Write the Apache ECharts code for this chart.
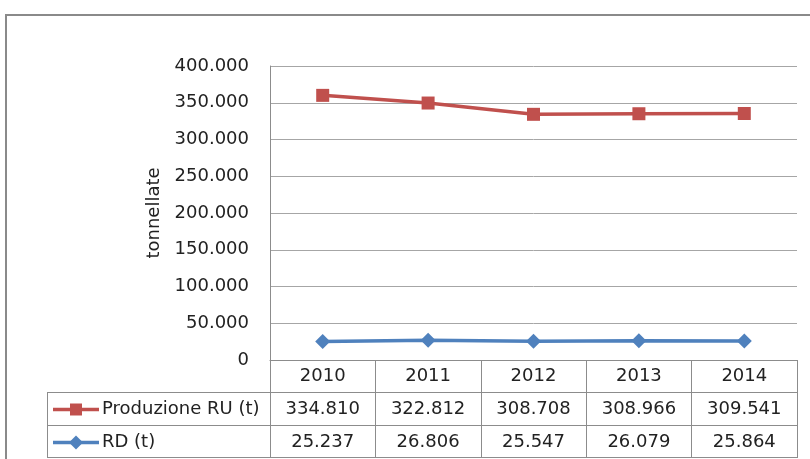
<!DOCTYPE html>
<html>
<head>
<meta charset="utf-8">
<script src="https://cdn.jsdelivr.net/npm/echarts@6/dist/echarts.min.js"></script>
<style>
  html, body { margin: 0; padding: 0; background: #fff; }
  #main { width: 810px; height: 459px; }
</style>
</head>
<body>
<div id="main"></div>
<script>
const years = ["2010", "2011", "2012", "2013", "2014"];
const produzioneRU = [334810, 322812, 308708, 308966, 309541];
const rd = [25237, 26806, 25547, 26079, 25864];
const yTicks = [0, 50000, 100000, 150000, 200000, 250000, 300000, 350000, 400000];

const FONT = "DejaVu Sans";
const FS = 18;
const RED = "#C0504D";
const BLUE = "#4F81BD";
const GRID_LINE = "#a6a6a6";
const TEXT = "#222";

// punto come separatore delle migliaia
function fmt(n) {
  return String(n).replace(/\B(?=(\d{3})+(?!\d))/g, ".");
}

const chartDom = document.getElementById("main");
const myChart = echarts.init(chartDom);

const option = {
  animation: false,
  textStyle: { fontFamily: FONT },
  grid: { left: 270, right: 13, top: 66, bottom: 99 },
  xAxis: {
    type: "category",
    data: years,
    boundaryGap: true,
    axisLine: { lineStyle: { color: "#8c8c8c", width: 1 } },
    axisTick: { show: true, length: 98, lineStyle: { color: "#8c8c8c" } },
    axisLabel: { color: TEXT, fontSize: FS, fontFamily: FONT, margin: 7 },
  },
  yAxis: {
    type: "value",
    min: yTicks[0],
    max: yTicks[yTicks.length - 1],
    interval: 50000,
    name: "tonnellate",
    nameLocation: "middle",
    nameRotate: 90,
    nameGap: 104,
    nameTextStyle: { color: TEXT, fontSize: FS, fontFamily: FONT },
    axisLine: { show: true, lineStyle: { color: "#8c8c8c" } },
    axisTick: { show: false },
    axisLabel: {
      color: TEXT,
      fontSize: FS,
      fontFamily: FONT,
      margin: 21,
      formatter: (v) => fmt(v),
    },
    splitLine: { lineStyle: { color: GRID_LINE, width: 1 } },
  },
  series: [
    {
      name: "RD (t)",
      type: "line",
      stack: "tot",
      data: rd,
      symbol: "diamond",
      symbolSize: 15,
      lineStyle: { color: BLUE, width: 3.5 },
      itemStyle: { color: BLUE },
    },
    {
      name: "Produzione RU (t)",
      type: "line",
      stack: "tot",
      data: produzioneRU,
      symbol: "rect",
      symbolSize: 13,
      lineStyle: { color: RED, width: 3.5 },
      itemStyle: { color: RED },
    },
  ],
};

myChart.setOption(option);

// tabella dati sotto il grafico
function buildTable() {
  const right = 797, bottom = 360;
  const tableLeft = 47;
  const rowH = 33;
  const rows = [
    { label: "Produzione RU (t)", values: produzioneRU, color: RED, marker: "rect" },
    { label: "RD (t)", values: rd, color: BLUE, marker: "diamond" },
  ];
  const g = [];
  const lineStyle = { stroke: "#8c8c8c", lineWidth: 1 };

  // cornice esterna
  g.push({
    type: "rect",
    shape: { x: 6, y: 15, width: 820, height: 460 },
    style: { fill: null, stroke: "#8a8a8a", lineWidth: 2 },
    silent: true,
  });

  for (let r = 0; r <= rows.length; r++) {
    const y = bottom + rowH * (r + 1) - 0.5 + (r === rows.length ? -1 : 0);
    g.push({
      type: "line",
      shape: { x1: tableLeft, y1: y, x2: right, y2: y },
      style: lineStyle,
      silent: true,
    });
  }
  g.push({
    type: "line",
    shape: { x1: tableLeft + 0.5, y1: bottom + rowH, x2: tableLeft + 0.5, y2: bottom + rowH * 3 - 1 },
    style: lineStyle,
    silent: true,
  });

  rows.forEach((row, r) => {
    const cy = bottom + rowH * (r + 1) + rowH / 2;
    // icona legenda
    g.push({
      type: "line",
      shape: { x1: 53, y1: cy, x2: 99, y2: cy },
      style: { stroke: row.color, lineWidth: 3.5 },
      silent: true,
    });
    if (row.marker === "rect") {
      g.push({
        type: "rect",
        shape: { x: 70, y: cy - 6, width: 12, height: 12 },
        style: { fill: row.color },
        silent: true,
      });
    } else {
      g.push({
        type: "polygon",
        shape: { points: [[76, cy - 7], [83, cy], [76, cy + 7], [69, cy]] },
        style: { fill: row.color },
        silent: true,
      });
    }
    g.push({
      type: "text",
      x: 102,
      y: cy,
      style: {
        text: row.label,
        fill: TEXT,
        font: FS + "px " + FONT,
        textAlign: "left",
        textVerticalAlign: "middle",
      },
      silent: true,
    });
    row.values.forEach((v, i) => {
      const px = myChart.convertToPixel({ xAxisIndex: 0 }, i);
      g.push({
        type: "text",
        x: px,
        y: cy,
        style: {
          text: fmt(v),
          fill: TEXT,
          font: FS + "px " + FONT,
          textAlign: "center",
          textVerticalAlign: "middle",
        },
        silent: true,
      });
    });
  });
  myChart.setOption({ graphic: g });
}

buildTable();
</script>
</body>
</html>
